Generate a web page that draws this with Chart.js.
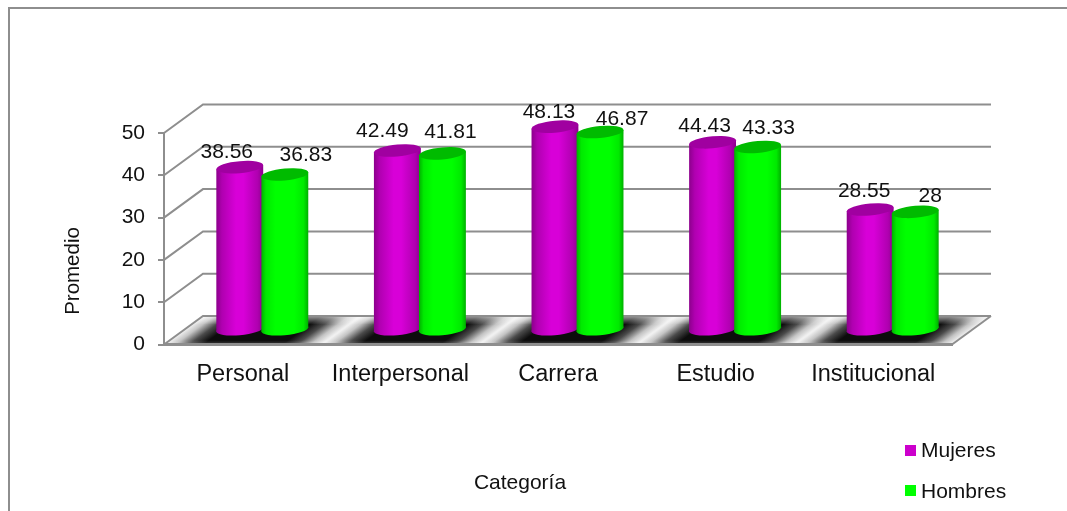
<!DOCTYPE html>
<html>
<head>
  <title>Promedio por categoría</title>
  <style>
    body { margin: 0; background: #fff; }
    canvas { display: block; }
  </style>
</head>
<body>
  <canvas id="chart" width="1067" height="511"></canvas>
  <script src="https://cdn.jsdelivr.net/npm/chart.js"></script>
  <script>
    const categories = ["Personal", "Interpersonal", "Carrera", "Estudio", "Institucional"];
    const mujeres = [38.56, 42.49, 48.13, 44.43, 28.55];
    const hombres = [36.83, 41.81, 46.87, 43.33, 28];

    // depth of the 3D box, and how far the bars sit inside it
    const DEPTH_X = 39, DEPTH_Y = 28.5;
    const GRAY = "#8e8e8e";
    const FONT = "Liberation Sans";

    // labels were hand placed in the original, so they do not follow the bars
    const labelShift = [
      [[-13, -15], [-15, -19], [-6, -14], [-8, -16], [-6, -18]],
      [[21, -19], [8, -21], [22, -13], [11, -19], [15, -16]]
    ];

    // bars drawn as cylinders, the body is still the normal bar element
    class CylinderController extends Chart.BarController {
      draw() {
        // chart.js draws dataset 0 last, but here the green ones sit in front
        if (this.index !== 0) return;
        this.chart.data.datasets.forEach((d, i) => {
          this.chart.getDatasetMeta(i).controller.drawCylinders();
        });
      }
      drawCylinders() {
        const ctx = this.chart.ctx;
        const ds = this.getDataset();
        this.getMeta().data.forEach((bar) => {
          const r = bar.width / 2, ry = 6;
          const skew = 4 / bar.width;
          const grad = ctx.createLinearGradient(bar.x - r, 0, bar.x + r, 0);
          ds.shades.forEach((c, i) => grad.addColorStop(ds.shadeStops[i], c));

          ctx.save();
          ctx.transform(1, -skew, 0, 1, DEPTH_X / 2, -DEPTH_Y / 2 + skew * bar.x);

          ctx.fillStyle = grad;
          ctx.beginPath();
          ctx.ellipse(bar.x, bar.base, r, ry, 0, 0, Math.PI * 2);
          ctx.fill();

          const body = bar.options;
          bar.options = Object.assign({}, body, { backgroundColor: grad });
          bar.draw(ctx);
          bar.options = body;

          ctx.fillStyle = ds.topColor;
          ctx.beginPath();
          ctx.ellipse(bar.x, bar.y, r, ry, 0, 0, Math.PI * 2);
          ctx.fill();
          ctx.restore();
        });
      }
    }
    CylinderController.id = "cylinder";
    CylinderController.defaults = Chart.BarController.defaults;
    Chart.register(CylinderController);

    const box3d = {
      id: "box3d",
      beforeDraw(chart) {
        const { ctx, scales: { x, y } } = chart;
        const left = x.left, right = x.right, y0 = y.getPixelForValue(0);

        ctx.save();
        // outer frame, only top and left
        ctx.strokeStyle = GRAY;
        ctx.lineWidth = 2;
        ctx.beginPath();
        ctx.moveTo(9, 511);
        ctx.lineTo(9, 8);
        ctx.lineTo(1067, 8);
        ctx.stroke();

        // floor with its dark blur under each category
        ctx.save();
        ctx.beginPath();
        ctx.moveTo(left, y0);
        ctx.lineTo(right, y0);
        ctx.lineTo(right + DEPTH_X, y0 - DEPTH_Y);
        ctx.lineTo(left + DEPTH_X, y0 - DEPTH_Y);
        ctx.closePath();
        ctx.clip();
        const k = DEPTH_X / DEPTH_Y;
        ctx.save();
        ctx.transform(1, 0, -k, 1, k * y0, 0);
        const floor = ctx.createLinearGradient(left, 0, right, 0);
        const n = categories.length;
        for (let i = 0; i < n; i++) {
          floor.addColorStop((i + 0.005) / n, "#f0f0f0");
          floor.addColorStop((i + 0.07) / n, "#c4c4c4");
          floor.addColorStop((i + 0.16) / n, "#4a4a4a");
          floor.addColorStop((i + 0.25) / n, "#0c0c0c");
          floor.addColorStop((i + 0.75) / n, "#0c0c0c");
          floor.addColorStop((i + 0.84) / n, "#4a4a4a");
          floor.addColorStop((i + 0.93) / n, "#c4c4c4");
          floor.addColorStop((i + 0.995) / n, "#f0f0f0");
        }
        ctx.fillStyle = floor;
        ctx.fillRect(left - 10, y0 - DEPTH_Y - 2, right - left + 20, DEPTH_Y + 4);
        ctx.restore();
        const fade = ctx.createLinearGradient(0, y0 - DEPTH_Y, 0, y0);
        fade.addColorStop(0, "rgba(255,255,255,0.6)");
        fade.addColorStop(0.3, "rgba(255,255,255,0)");
        fade.addColorStop(0.85, "rgba(255,255,255,0)");
        fade.addColorStop(1, "rgba(255,255,255,0.2)");
        ctx.fillStyle = fade;
        ctx.fillRect(left, y0 - DEPTH_Y, right - left + DEPTH_X, DEPTH_Y);
        ctx.restore();

        // back wall and side wall lines
        ctx.strokeStyle = GRAY;
        ctx.lineWidth = 2;
        y.ticks.forEach((t) => {
          const py = y.getPixelForValue(t.value);
          ctx.beginPath();
          ctx.moveTo(left, py);
          ctx.lineTo(left + DEPTH_X, py - DEPTH_Y);
          ctx.lineTo(right + DEPTH_X, py - DEPTH_Y);
          ctx.stroke();
        });
        ctx.beginPath();
        ctx.moveTo(right, y0);
        ctx.lineTo(right + DEPTH_X, y0 - DEPTH_Y);
        ctx.stroke();
        ctx.restore();
      },
      afterDatasetsDraw(chart) {
        const { ctx, scales: { y } } = chart;
        ctx.save();
        ctx.fillStyle = "#111";
        ctx.textAlign = "center";
        ctx.textBaseline = "middle";

        // value labels
        ctx.font = "21px '" + FONT + "'";
        chart.data.datasets.forEach((ds, d) => {
          chart.getDatasetMeta(d).data.forEach((bar, i) => {
            const s = labelShift[d][i];
            const text = String(ds.data[i]);
            ctx.fillText(text, bar.x + DEPTH_X / 2 + s[0], y.getPixelForValue(ds.data[i]) - DEPTH_Y / 2 + s[1]);
          });
        });

        // axis titles
        ctx.font = "21px '" + FONT + "'";
        ctx.fillText("Categoría", 520, 483);
        ctx.save();
        ctx.translate(73, 271);
        ctx.rotate(-Math.PI / 2);
        ctx.font = "20.5px '" + FONT + "'";
        ctx.fillText("Promedio", 0, 0);
        ctx.restore();

        // legend
        ctx.font = "21px '" + FONT + "'";
        ctx.textAlign = "left";
        chart.data.datasets.forEach((ds, d) => {
          const ly = 450.5 + d * 40;
          ctx.fillStyle = ds.backgroundColor;
          ctx.fillRect(905, ly - 5.5, 11, 11);
          ctx.fillStyle = "#111";
          ctx.fillText(ds.label, 921, ly + 0.5 + d);
        });
        ctx.restore();
      }
    };

    new Chart(document.getElementById("chart"), {
      type: "cylinder",
      plugins: [box3d],
      data: {
        labels: categories,
        datasets: [
          {
            label: "Mujeres",
            data: mujeres,
            backgroundColor: "#cc00cc",
            shades: ["#8c008c", "#b000b0", "#d800d8", "#d800d8", "#b000b0", "#8c008c"],
            shadeStops: [0, 0.12, 0.42, 0.58, 0.88, 1],
            topColor: "#a000a0",
            clip: false,
            categoryPercentage: 0.572,
            barPercentage: 1.04
          },
          {
            label: "Hombres",
            data: hombres,
            backgroundColor: "#00ff00",
            shades: ["#00b000", "#00ea00", "#00ff00", "#00ff00", "#00ea00", "#00b000"],
            shadeStops: [0, 0.1, 0.3, 0.7, 0.9, 1],
            topColor: "#00bb00",
            clip: false,
            categoryPercentage: 0.572,
            barPercentage: 1.04
          }
        ]
      },
      options: {
        responsive: false,
        animation: false,
        layout: { padding: { left: 0, right: 115, top: 133, bottom: 106.5 } },
        plugins: { legend: { display: false }, tooltip: { enabled: false } },
        scales: {
          x: {
            type: "category",
            grid: { display: false },
            border: { color: GRAY, width: 3 },
            ticks: {
              color: "#111",
              padding: 8,
              maxRotation: 0,
              autoSkip: false,
              font: { family: FONT, size: 23.5 }
            },
            afterFit: (s) => { s.height = 60; }
          },
          y: {
            type: "linear",
            min: 0,
            max: 50,
            grid: { drawOnChartArea: false, color: GRAY, lineWidth: 2, tickLength: 6 },
            border: { color: GRAY, width: 2 },
            ticks: {
              stepSize: 10,
              color: "#111",
              padding: 13,
              font: { family: FONT, size: 21 }
            },
            afterFit: (s) => { s.width = 164; }
          }
        }
      }
    });
  </script>
</body>
</html>
